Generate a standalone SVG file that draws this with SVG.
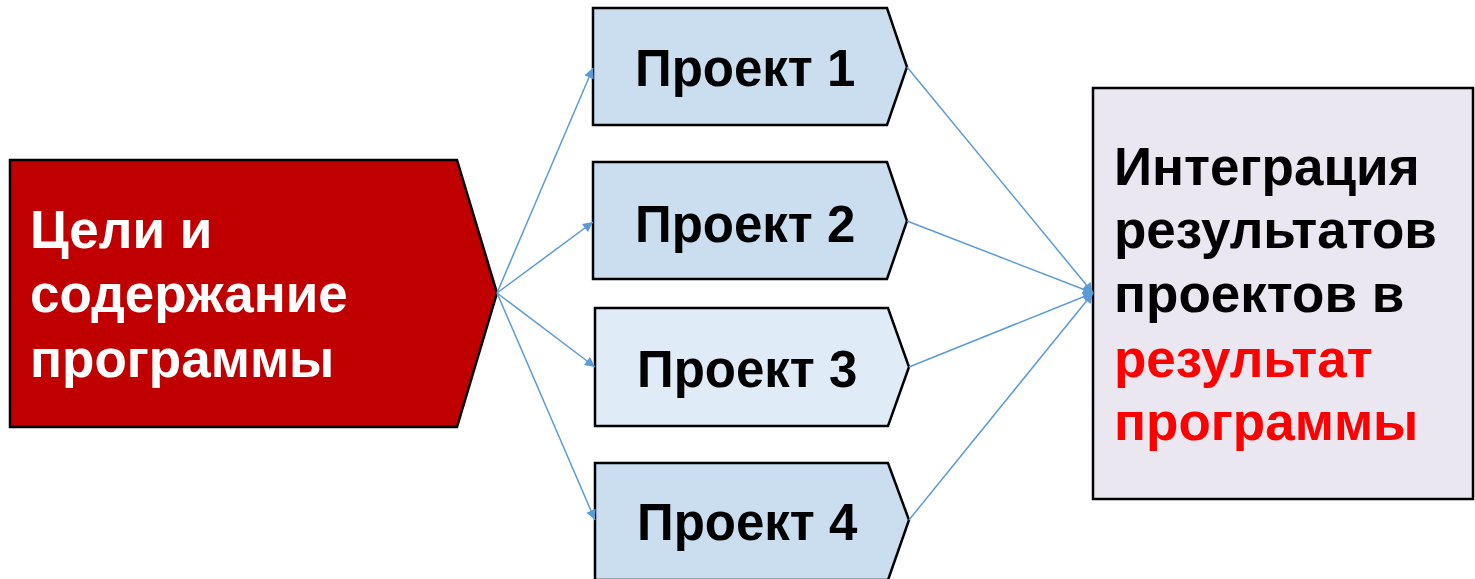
<svg xmlns="http://www.w3.org/2000/svg" width="1475" height="579" viewBox="0 0 1475 579">
<style>
.t{font-family:"Liberation Sans",Arial,sans-serif;font-weight:bold;font-size:53px}
.pt{font-size:51px}
.shape{stroke:#000;stroke-width:2.5}
.proj{fill:#CADEF0}
.proj3{fill:#DFEBF6}
.con{stroke:#5B9BD5;stroke-width:1.5;fill:none;marker-end:url(#arr)}
</style>
<defs>
<marker id="arr" viewBox="0 0 10 10" refX="10" refY="5" markerWidth="11" markerHeight="10" markerUnits="userSpaceOnUse" orient="auto">
<path d="M0,0 L10,5 L0,10 z" fill="#5B9BD5"/>
</marker>
</defs>
<rect width="1475" height="579" fill="#fff"/>
<g id="goals">
<path class="shape" d="M10,160 H457 L497,293 L457,427 H10 Z" fill="#C00000"/>
<text class="t" fill="#fff" x="30" y="248">Цели и</text>
<text class="t" fill="#fff" x="30" y="312">содержание</text>
<text class="t" fill="#fff" x="30" y="377">программы</text>
</g>
<g id="p1">
<path class="shape proj" d="M593,8 H887 L907,67 L887,125 H593 Z"/>
<text class="t pt" x="635" y="86">Проект 1</text>
</g>
<g id="p2">
<path class="shape proj" d="M593,162 H887 L907,221 L887,279 H593 Z"/>
<text class="t pt" x="635" y="242">Проект 2</text>
</g>
<g id="p3">
<path class="shape proj3" d="M595,308 H888 L909,367 L888,426 H595 Z"/>
<text class="t pt" x="637" y="387">Проект 3</text>
</g>
<g id="p4">
<path class="shape proj" d="M595,463 H888 L909,520 L888,580 H595 Z"/>
<text class="t pt" x="637" y="540">Проект 4</text>
</g>
<g id="result">
<rect class="shape" x="1093" y="88" width="380" height="411" fill="#EAE7F1"/>
<text class="t" x="1114" y="185">Интеграция</text>
<text class="t" x="1114" y="248">результатов</text>
<text class="t" x="1114" y="312">проектов в</text>
<text class="t" x="1114" y="377" fill="#FF0000">результат</text>
<text class="t" x="1114" y="440" fill="#FF0000">программы</text>
</g>
<g id="connectors">
<line class="con" x1="497" y1="293" x2="593" y2="68"/>
<line class="con" x1="497" y1="293" x2="593" y2="222"/>
<line class="con" x1="497" y1="293" x2="595" y2="367"/>
<line class="con" x1="497" y1="293" x2="595" y2="520"/>
<line class="con" x1="907" y1="67" x2="1093" y2="293"/>
<line class="con" x1="907" y1="221" x2="1093" y2="293"/>
<line class="con" x1="909" y1="367" x2="1093" y2="293"/>
<line class="con" x1="909" y1="520" x2="1093" y2="293"/>
</g>
</svg>
